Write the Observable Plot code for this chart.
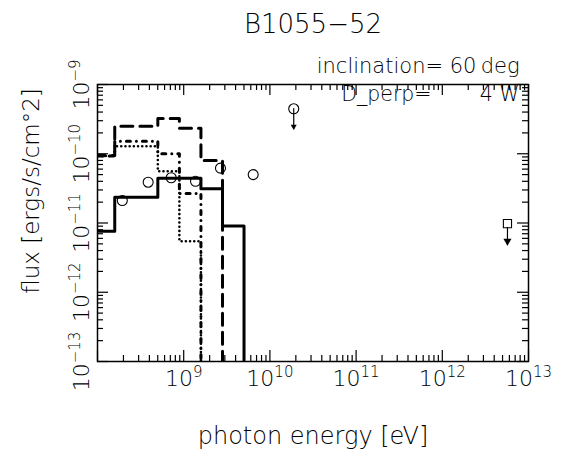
<!DOCTYPE html>
<html><head><meta charset="utf-8">
<script src="https://cdn.jsdelivr.net/npm/d3@7"></script>
<script src="https://cdn.jsdelivr.net/npm/@observablehq/plot@0.6"></script>
<style>
body{margin:0;background:#fff}
svg text{font-family:"DejaVu Sans",sans-serif;font-weight:200}
</style>
</head><body><div id="chart"></div>
<script>
// ---- text ----
const title = "B1055\u221252";
const xLabel = "photon energy [eV]";
const yLabel = "flux [ergs/s/cm\u00b02]";
const noteInclination = "inclination= 60\u2009deg";
const noteDperpName = "D_perp=";
const noteDperpValue = "4 W";

// ---- model spectra: bin edges (eV) and flux per bin (ergs/s/cm^2) ----
const binEdges = [8.91e7, 1.585e8, 2.82e8, 5.01e8, 8.91e8, 1.585e9, 2.82e9, 5.01e9];
const solidFlux   = [7.6e-12, 2.36e-11, 2.36e-11, 4.44e-11, 4.44e-11, 3.12e-11, 9.06e-12];
const dashedFlux  = [9.44e-11, 2.50e-10, 2.50e-10, 3.23e-10, 2.34e-10, 8.0e-11];
const dottedFlux  = [9.3e-11, 1.285e-10, 1.285e-10, 5.6e-11, 5.46e-12];
const dashdotFlux = [9.3e-11, 1.52e-10, 1.52e-10, 1.0e-10, 2.67e-11];
const zeroFlux = 1e-16; // "no emission" beyond cutoff

// ---- observed points ----
const obsEnergy = [1.94e8, 3.87e8, 7.16e8, 1.37e9, 2.67e9, 6.4e9];
const obsFlux   = [2.11e-11, 3.88e-11, 4.5e-11, 4.0e-11, 6.2e-11, 5.0e-11];
// upper limits
const ulCircleEnergy = [1.89e10];
const ulCircleFlux   = [4.46e-10];
const ulCircleTip    = [2.24e-10];
const ulSquareEnergy = [5.7e12];
const ulSquareFlux   = [9.8e-12];
const ulSquareTip    = [4.7e-12];

// ---- ticks ----
const xMajor = [1e8, 1e9, 1e10, 1e11, 1e12, 1e13];
const xLabelTicks = [1e9, 1e10, 1e11, 1e12, 1e13];
const yMajor = [1e-13, 1e-12, 1e-11, 1e-10, 1e-9];
const yLabelTicks = [1e-13, 1e-12, 1e-11, 1e-10, 1e-9];
const minorMultipliers = [2, 3, 4, 5, 6, 7, 8, 9];
const xMinor = xMajor.slice(0, -1).flatMap(d => minorMultipliers.map(m => d * m));
const yMinor = yMajor.slice(0, -1).flatMap(d => minorMultipliers.map(m => d * m));

// ---- layout ----
const W = 565, H = 456, mL = 97, mR = 37, mT = 84, mB = 95;
const fw = W - mL - mR, fh = H - mT - mB;
const majLen = 11, minLen = 6;

function steps(values) {
  const rows = values.map((f, i) => ({E: binEdges[i], F: f}));
  rows.push({E: binEdges[values.length], F: zeroFlux});
  return rows;
}
const expText = d => String(Math.round(Math.log10(d))).replace("-", "\u2212");

function ticksX(data, len) {
  return [
    Plot.tickX(data, {x: d => d, insetTop: fh - len, stroke: "black", strokeWidth: 1.2}),
    Plot.tickX(data, {x: d => d, insetBottom: fh - len, stroke: "black", strokeWidth: 1.2})
  ];
}
function ticksY(data, len) {
  return [
    Plot.tickY(data, {y: d => d, insetRight: fw - len, stroke: "black", strokeWidth: 1.2}),
    Plot.tickY(data, {y: d => d, insetLeft: fw - len, stroke: "black", strokeWidth: 1.2})
  ];
}

const lineOpts = {x: "E", y: "F", curve: "step-after", stroke: "black", clip: true};

const chart = Plot.plot({
  width: W, height: H,
  marginLeft: mL, marginRight: mR, marginTop: mT, marginBottom: mB,
  x: {type: "log", domain: [1e8, 1e13], axis: null},
  y: {type: "log", domain: [1e-13, 1e-9], axis: null},
  style: {background: "white", color: "black", fontFamily: "DejaVu Sans, sans-serif"},
  marks: [
    ...ticksX(xMinor, minLen), ...ticksX(xMajor, majLen),
    ...ticksY(yMinor, minLen), ...ticksY(yMajor, majLen),
    Plot.frame({stroke: "black", strokeWidth: 1.5}),
    Plot.line(steps(solidFlux), {...lineOpts, strokeWidth: 3}),
    Plot.line(steps(dashedFlux), {...lineOpts, strokeWidth: 3, strokeDasharray: "12,7"}),
    Plot.line(steps(dottedFlux), {...lineOpts, strokeWidth: 2.6, strokeDasharray: "0,4.2", strokeLinecap: "round"}),
    Plot.line(steps(dashdotFlux), {...lineOpts, strokeWidth: 3, strokeDasharray: "4,6,0,6", strokeLinecap: "round"}),
    Plot.dot(obsEnergy, {x: d => d, y: (d, i) => obsFlux[i], r: 5, stroke: "black", strokeWidth: 1.1, fill: "none"}),
    // upper limit (circle)
    Plot.ruleX(ulCircleEnergy, {x: d => d, y1: (d, i) => ulCircleFlux[i], y2: (d, i) => ulCircleTip[i], stroke: "black", strokeWidth: 1.2}),
    Plot.dot(ulCircleEnergy, {x: d => d, y: (d, i) => ulCircleFlux[i], r: 5, stroke: "black", strokeWidth: 1.1, fill: "none"}),
    Plot.dot(ulCircleEnergy, {x: d => d, y: (d, i) => ulCircleTip[i], symbol: "triangle", rotate: 180, r: 2.2, fill: "black", dy: -3}),
    // upper limit (square)
    Plot.ruleX(ulSquareEnergy, {x: d => d, y1: (d, i) => ulSquareFlux[i], y2: (d, i) => ulSquareTip[i], insetTop: 4, stroke: "black", strokeWidth: 1.2}),
    Plot.dot(ulSquareEnergy, {x: d => d, y: (d, i) => ulSquareFlux[i], symbol: "square", r: 4.6, stroke: "black", strokeWidth: 1.1, fill: "none"}),
    Plot.dot(ulSquareEnergy, {x: d => d, y: (d, i) => ulSquareTip[i], symbol: "triangle", rotate: 180, r: 3, fill: "black", dy: -4.6}),
    // tick labels
    Plot.text(xLabelTicks, {x: d => d, frameAnchor: "bottom", text: expText, lineAnchor: "bottom", dy: 24, fontSize: 22, ariaDescription: "xtl"}),
    Plot.text(yLabelTicks, {y: d => d, frameAnchor: "left", text: expText, rotate: -90, textAnchor: "middle", lineAnchor: "bottom", dx: -9, fontSize: 22, ariaDescription: "ytl"}),
    // titles and notes
    Plot.text([title], {frameAnchor: "top", lineAnchor: "bottom", dy: -52, fontSize: 26}),
    Plot.text([xLabel], {frameAnchor: "bottom", lineAnchor: "bottom", dy: 82, fontSize: 24}),
    Plot.text([yLabel], {frameAnchor: "left", rotate: -90, textAnchor: "middle", lineAnchor: "bottom", dx: -59, dy: -32, fontSize: 23}),
    Plot.text([noteInclination], {frameAnchor: "top-right", textAnchor: "end", lineAnchor: "bottom", dx: -9, dy: -12, fontSize: 21}),
    Plot.text([noteDperpName], {frameAnchor: "top-right", textAnchor: "end", lineAnchor: "bottom", dx: -97, dy: 16, fontSize: 20.5}),
    Plot.text([noteDperpValue], {frameAnchor: "top-right", textAnchor: "end", lineAnchor: "bottom", dx: -9, dy: 16, fontSize: 20.5})
  ]
});

function superscript(svg, label) {
  const ns = "http://www.w3.org/2000/svg";
  svg.querySelectorAll(`g[aria-description="${label}"] text`).forEach(t => {
    const exp = t.textContent;
    t.textContent = "";
    const a = document.createElementNS(ns, "tspan");
    a.textContent = "10";
    const b = document.createElementNS(ns, "tspan");
    b.textContent = exp;
    b.setAttribute("dy", "-9");
    b.setAttribute("font-size", "15");
    t.append(a, b);
  });
}
superscript(chart, "xtl");
superscript(chart, "ytl");
document.getElementById("chart").append(chart);
</script>
</body></html>
